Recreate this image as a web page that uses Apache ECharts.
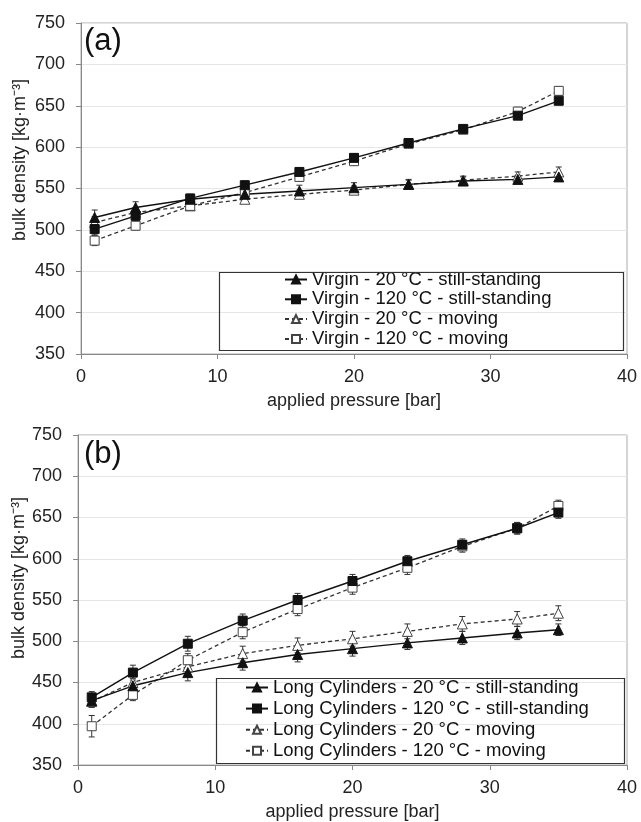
<!DOCTYPE html>
<html>
<head>
<meta charset="utf-8">
<script src="https://cdn.jsdelivr.net/npm/echarts@6/dist/echarts.min.js"></script>
<style>
  html, body { margin: 0; padding: 0; background: #fff; }
  #chart { width: 641px; height: 822px; }
</style>
</head>
<body>
<div id="chart"></div>
<script>
// applied pressure [bar]
const pressure = [1, 4, 8, 12, 16, 20, 24, 28, 32, 35];

// (a) Virgin
const virgin20Still = [515, 527, 537, 543, 547, 551, 555, 559, 561, 564];
const virgin120Still = [501, 517, 538, 554, 570, 587, 605, 622, 638, 656];
const virgin20Moving = [509, 521, 529, 537, 543, 548, 555, 560, 565, 570];
const virgin120Moving = [487, 505, 529, 545, 564, 583, 604, 621, 643, 668];
const virgin20StillErr = [9, 7, 5, 6, 7, 6, 6, 5, 5, 5];
const virgin120StillErr = [7, 6, 5, 5, 5, 5, 4, 4, 4, 4];
const virgin20MovingErr = [7, 6, 5, 5, 5, 5, 5, 5, 5, 6];
const virgin120MovingErr = [6, 5, 5, 5, 5, 5, 4, 4, 5, 5];

// (b) Long Cylinders
const long20Still = [428, 446, 462, 474, 484, 491, 498, 504, 510, 514];
const long120Still = [432, 462, 497, 525, 550, 573, 597, 617, 637, 656];
const long20Moving = [427, 450, 469, 485, 495, 503, 512, 521, 527, 534];
const long120Moving = [397, 435, 477, 511, 539, 565, 589, 615, 637, 664];
const long20StillErr = [8, 9, 10, 9, 9, 9, 8, 8, 8, 7];
const long120StillErr = [7, 9, 9, 8, 8, 8, 7, 7, 7, 7];
const long20MovingErr = [7, 8, 9, 9, 9, 9, 9, 9, 9, 9];
const long120MovingErr = [13, 7, 8, 8, 8, 8, 8, 7, 7, 7];

const labelsA = [
    'Virgin - 20 °C - still-standing',
    'Virgin - 120 °C - still-standing',
    'Virgin - 20 °C - moving',
    'Virgin - 120 °C - moving'
];
const labelsB = [
    'Long Cylinders - 20 °C - still-standing',
    'Long Cylinders - 120 °C - still-standing',
    'Long Cylinders - 20 °C - moving',
    'Long Cylinders - 120 °C - moving'
];

const FONT = 'Liberation Sans, Arial, sans-serif';

const chart = echarts.init(document.getElementById('chart'));

function pairs(vals) {
    return pressure.map(function (p, i) { return [p, vals[i]]; });
}

function errData(vals, errs) {
    return pressure.map(function (p, i) { return [p, vals[i] - errs[i], vals[i] + errs[i]]; });
}

// error bar: vertical whisker + two caps
function renderErr(params, api) {
    const x = api.value(0);
    const lo = api.coord([x, api.value(1)]);
    const hi = api.coord([x, api.value(2)]);
    const cap = 3;
    const style = { stroke: '#333', lineWidth: 1 };
    return {
        type: 'group',
        children: [
            { type: 'line', shape: { x1: lo[0], y1: lo[1], x2: hi[0], y2: hi[1] }, style: style },
            { type: 'line', shape: { x1: lo[0] - cap, y1: lo[1], x2: lo[0] + cap, y2: lo[1] }, style: style },
            { type: 'line', shape: { x1: hi[0] - cap, y1: hi[1], x2: hi[0] + cap, y2: hi[1] }, style: style }
        ]
    };
}

function lineSeries(name, vals, idx, filled, symbol) {
    return {
        name: name,
        type: 'line',
        xAxisIndex: idx,
        yAxisIndex: idx,
        data: pairs(vals),
        symbol: symbol,
        symbolSize: symbol === 'triangle' ? 10 : 9,
        showSymbol: true,
        z: 3,
        lineStyle: {
            color: filled ? '#111' : '#333',
            width: filled ? 1.4 : 1.3,
            type: filled ? 'solid' : [4, 3]
        },
        itemStyle: filled
            ? { color: '#111', borderColor: '#111', borderWidth: 1 }
            : { color: '#fff', borderColor: '#444', borderWidth: 1 },
        emphasis: { disabled: true }
    };
}

function errSeries(vals, errs, idx) {
    return {
        type: 'custom',
        xAxisIndex: idx,
        yAxisIndex: idx,
        renderItem: renderErr,
        data: errData(vals, errs),
        z: 2,
        silent: true
    };
}

function xAxis(idx) {
    return {
        type: 'value',
        gridIndex: idx,
        min: 0,
        max: 40,
        interval: 10,
        axisLine: { show: true, lineStyle: { color: '#888', width: 1 } },
        axisTick: { show: true, length: 5, lineStyle: { color: '#888' } },
        axisLabel: { color: '#222', fontSize: 18, fontFamily: FONT, margin: 14 },
        splitLine: { show: false },
        name: 'applied pressure [bar]',
        nameLocation: 'middle',
        nameGap: 38,
        nameTextStyle: { color: '#222', fontSize: 18, fontFamily: FONT }
    };
}

function yAxis(idx) {
    return {
        type: 'value',
        gridIndex: idx,
        min: 350,
        max: 750,
        interval: 50,
        axisLine: { show: true, lineStyle: { color: '#888', width: 1 } },
        axisTick: { show: true, length: 5, lineStyle: { color: '#888' } },
        axisLabel: { color: '#222', fontSize: 18, fontFamily: FONT, margin: 16 },
        splitLine: { show: true, lineStyle: { color: '#e6e6e6', width: 1 } }
    };
}

function legend(names, left, top, gap) {
    return {
        orient: 'vertical',
        left: left,
        top: top,
        data: names,
        itemWidth: 22,
        itemHeight: 10,
        itemGap: gap,
        padding: 0,
        selectedMode: false,
        textStyle: { color: '#111', fontSize: 18.5, lineHeight: 18.5, fontFamily: FONT }
    };
}

const option = {
    backgroundColor: '#fff',
    animation: false,
    grid: [
        { left: 81, top: 23, width: 546, height: 331, show: true, borderColor: '#aaa', borderWidth: 1 },
        { left: 78, top: 435, width: 549, height: 333, show: true, borderColor: '#aaa', borderWidth: 1 }
    ],
    xAxis: [xAxis(0), xAxis(1)],
    yAxis: [yAxis(0), yAxis(1)],
    legend: [
        legend(labelsA, 284, 270, 0.8),
        legend(labelsB, 245, 678, 2.1)
    ],
    graphic: [
        { type: 'rect', left: 217, top: 270, shape: { width: 404, height: 78 },
          style: { fill: 'none', stroke: '#333', lineWidth: 1.2 }, z: 100 },
        { type: 'rect', left: 214, top: 676, shape: { width: 408, height: 85 },
          style: { fill: 'none', stroke: '#333', lineWidth: 1.2 }, z: 100 },
        { type: 'text', left: 84, top: 26,
          style: { text: '(a)', fill: '#111', font: '31px ' + FONT } },
        { type: 'text', left: 84, top: 439,
          style: { text: '(b)', fill: '#111', font: '31px ' + FONT } },
        { type: 'text', x: 20, y: 160, rotation: Math.PI / 2,
          style: { text: 'bulk density [kg·m⁻³]', fill: '#222', font: '18px ' + FONT,
                   textAlign: 'center', textVerticalAlign: 'middle' } },
        { type: 'text', x: 19, y: 578, rotation: Math.PI / 2,
          style: { text: 'bulk density [kg·m⁻³]', fill: '#222', font: '18px ' + FONT,
                   textAlign: 'center', textVerticalAlign: 'middle' } }
    ],
    series: [
        errSeries(virgin20Still, virgin20StillErr, 0),
        errSeries(virgin120Still, virgin120StillErr, 0),
        errSeries(virgin20Moving, virgin20MovingErr, 0),
        errSeries(virgin120Moving, virgin120MovingErr, 0),
        lineSeries(labelsA[2], virgin20Moving, 0, false, 'triangle'),
        lineSeries(labelsA[3], virgin120Moving, 0, false, 'rect'),
        lineSeries(labelsA[0], virgin20Still, 0, true, 'triangle'),
        lineSeries(labelsA[1], virgin120Still, 0, true, 'rect'),

        errSeries(long20Still, long20StillErr, 1),
        errSeries(long120Still, long120StillErr, 1),
        errSeries(long20Moving, long20MovingErr, 1),
        errSeries(long120Moving, long120MovingErr, 1),
        lineSeries(labelsB[2], long20Moving, 1, false, 'triangle'),
        lineSeries(labelsB[3], long120Moving, 1, false, 'rect'),
        lineSeries(labelsB[0], long20Still, 1, true, 'triangle'),
        lineSeries(labelsB[1], long120Still, 1, true, 'rect')
    ]
};

chart.setOption(option);
</script>
</body>
</html>
